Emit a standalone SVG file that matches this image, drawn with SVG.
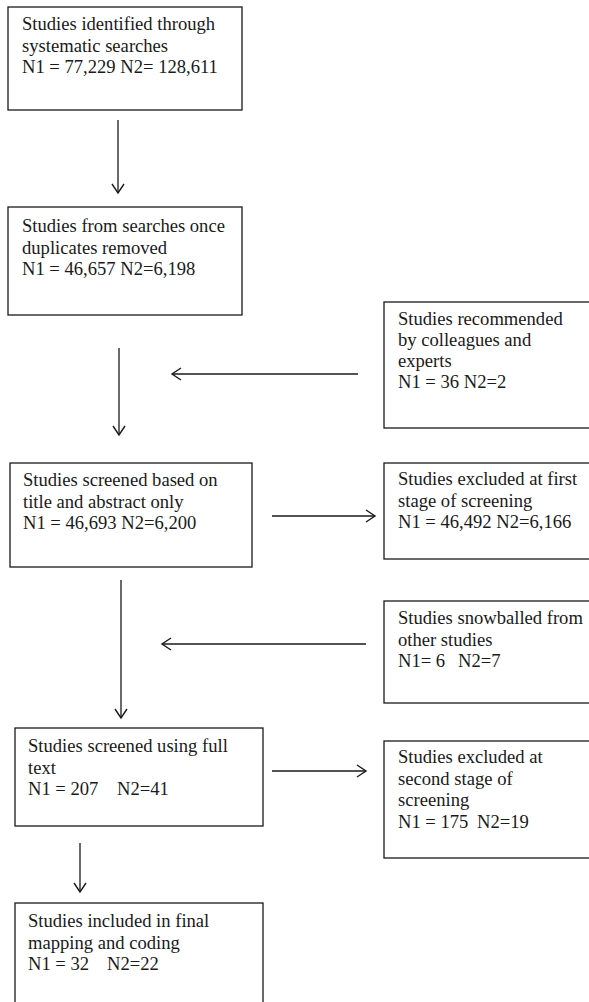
<svg xmlns="http://www.w3.org/2000/svg" width="589" height="1002" viewBox="0 0 589 1002">
<style>
.box{fill:#fff;stroke:#1a1a1a;stroke-width:1.3}
text{font-family:"Liberation Serif","Times New Roman",serif;font-size:18.6px;fill:#1a1a1a}
.conn line{stroke:#1a1a1a;stroke-width:1.3;marker-end:url(#arr)}
</style>
<defs>
<marker id="arr" markerUnits="userSpaceOnUse" markerWidth="14" markerHeight="16" refX="10" refY="7" orient="auto" viewBox="0 0 14 14">
<path d="M1,1 L10,7 L1,13" fill="none" stroke="#1a1a1a" stroke-width="1.4"/>
</marker>
</defs>
<rect width="589" height="1002" fill="#fff"/>
<g id="n1"><rect class="box" x="8" y="7" width="234" height="103"/>
<text x="22" y="30">Studies identified through</text>
<text x="22" y="51.5">systematic searches</text>
<text x="22" y="73">N1 = 77,229 N2= 128,611</text></g>
<g id="n2"><rect class="box" x="8" y="207" width="234" height="108"/>
<text x="22" y="232">Studies from searches once</text>
<text x="22" y="253.5">duplicates removed</text>
<text x="22" y="275">N1 = 46,657 N2=6,198</text></g>
<g id="n3"><rect class="box" x="384" y="302" width="210" height="126"/>
<text x="398" y="325">Studies recommended</text>
<text x="398" y="346">by colleagues and</text>
<text x="398" y="367">experts</text>
<text x="398" y="388">N1 = 36 N2=2</text></g>
<g id="n4"><rect class="box" x="10" y="463" width="242" height="104"/>
<text x="23" y="486">Studies screened based on</text>
<text x="23" y="507.5">title and abstract only</text>
<text x="23" y="529">N1 = 46,693 N2=6,200</text></g>
<g id="n5"><rect class="box" x="384" y="463" width="210" height="96"/>
<text x="398" y="485">Studies excluded at first</text>
<text x="398" y="506.5">stage of screening</text>
<text x="398" y="528">N1 = 46,492 N2=6,166</text></g>
<g id="n6"><rect class="box" x="384" y="601" width="210" height="102"/>
<text x="398" y="624">Studies snowballed from</text>
<text x="398" y="645.5">other studies</text>
<text x="398" y="667">N1= 6<tspan x="458">N2=7</tspan></text></g>
<g id="n7"><rect class="box" x="15" y="728" width="248" height="98"/>
<text x="28" y="752">Studies screened using full</text>
<text x="28" y="773.5">text</text>
<text x="28" y="795">N1 = 207<tspan x="117">N2=41</tspan></text></g>
<g id="n8"><rect class="box" x="384" y="741" width="210" height="117"/>
<text x="398" y="763">Studies excluded at</text>
<text x="398" y="784.5">second stage of</text>
<text x="398" y="806">screening</text>
<text x="398" y="828">N1 = 175<tspan x="477">N2=19</tspan></text></g>
<g id="n9"><rect class="box" x="15" y="903" width="248" height="110"/>
<text x="28" y="927">Studies included in final</text>
<text x="28" y="948.5">mapping and coding</text>
<text x="28" y="970">N1 = 32<tspan x="107">N2=22</tspan></text></g>
<g id="connectors" class="conn">
<line x1="118" y1="120" x2="118" y2="193"/>
<line x1="119" y1="348" x2="119" y2="435"/>
<line x1="358" y1="374" x2="172" y2="374"/>
<line x1="272" y1="516" x2="375" y2="516"/>
<line x1="121" y1="580" x2="121" y2="718"/>
<line x1="366" y1="644" x2="162" y2="644"/>
<line x1="272" y1="771" x2="366" y2="771"/>
<line x1="80" y1="843" x2="80" y2="892"/>
</g>
</svg>
